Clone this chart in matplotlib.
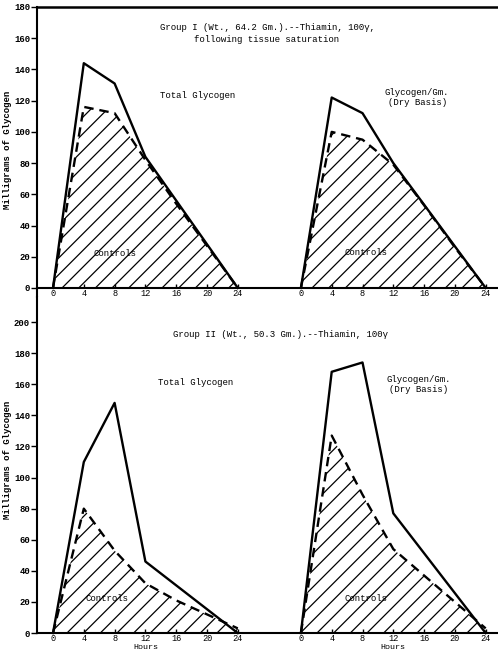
import numpy as np
import matplotlib.pyplot as plt

plt.rcParams['font.family'] = ['Liberation Mono', 'DejaVu Sans Mono']
plt.rcParams['hatch.linewidth'] = 0.9

# Group I
g1_total_hours = [0, 4, 8, 12, 24]
g1_total = [0, 144, 131, 84, 0]
g1_total_ctrl_hours = [0, 4, 8, 12, 16, 20, 24]
g1_total_ctrl = [0, 116, 112, 82, 54, 27, 0]

g1_dry_hours = [0, 4, 8, 12, 24]
g1_dry = [0, 122, 112, 80, 0]
g1_dry_ctrl_hours = [0, 4, 8, 12, 16, 20, 24]
g1_dry_ctrl = [0, 100, 95, 79, 53, 26, 0]

# Group II
g2_total_hours = [0, 4, 8, 12, 24]
g2_total = [0, 110, 148, 46, 0]
g2_total_ctrl_hours = [0, 4, 8, 12, 16, 20, 24]
g2_total_ctrl = [0, 80, 53, 32, 21, 12, 3]

g2_dry_hours = [0, 4, 8, 12, 24]
g2_dry = [0, 168, 174, 77, 0]
g2_dry_ctrl_hours = [0, 4, 8, 12, 16, 20, 24]
g2_dry_ctrl = [0, 127, 89, 54, 37, 20, 3]

hour_ticks = [0, 4, 8, 12, 16, 20, 24]
offset = 32.2  # right-hand chart sits on the same axis, shifted

fig = plt.figure(figsize=(4.98, 6.52), dpi=100)
W, H = 498, 652


def make_ax(top_px, bot_px, ylim, yticks, top_spine):
    ax = fig.add_axes([37 / W, 1 - bot_px / H, (W - 37) / W, (bot_px - top_px) / H])
    ax.set_xlim(-2.08, 57.8)
    ax.set_ylim(*ylim)
    ax.spines['right'].set_visible(False)
    ax.spines['top'].set_visible(top_spine)
    ax.spines['top'].set_linewidth(1.8)
    ax.spines['left'].set_linewidth(1.5)
    ax.spines['bottom'].set_position(('data', 0))
    ax.spines['bottom'].set_linewidth(1.5)
    xt = hour_ticks + [h + offset for h in hour_ticks]
    ax.set_xticks(xt, [str(h) for h in hour_ticks] * 2)
    ax.tick_params(axis='x', direction='in', length=3, width=1, pad=0.5, labelsize=6.2)
    ax.set_yticks(yticks, [str(v) for v in yticks])
    ax.tick_params(axis='y', direction='out', length=4, width=1, pad=1, labelsize=6.5)
    for lab in ax.get_yticklabels():
        lab.set_fontweight('bold')
    return ax


def panel(ax, hrs, vals, chrs, cvals, shift):
    xs = np.array(hrs) + shift
    cx = np.array(chrs) + shift
    ax.fill_between(cx, 0, cvals, facecolor='none', edgecolor='black',
                    hatch='//', linewidth=0)
    ax.plot(cx, cvals, color='black', lw=1.7, dashes=(4, 2.5))
    ax.plot(xs, vals, color='black', lw=1.7)


# top panel
ax1 = make_ax(7, 297, (-5.8, 180), list(range(0, 181, 20)), True)
panel(ax1, g1_total_hours, g1_total, g1_total_ctrl_hours, g1_total_ctrl, 0)
panel(ax1, g1_dry_hours, g1_dry, g1_dry_ctrl_hours, g1_dry_ctrl, offset)

# bottom panel
ax2 = make_ax(297, 650, (-10.9, 216.1), list(range(0, 201, 20)), False)
ax2.spines['left'].set_bounds(0, 216.1)
panel(ax2, g2_total_hours, g2_total, g2_total_ctrl_hours, g2_total_ctrl, 0)
panel(ax2, g2_dry_hours, g2_dry, g2_dry_ctrl_hours, g2_dry_ctrl, offset)

fs = 6.5
for ax, ylo in [(ax1, -9.3), (ax2, -9.2)]:
    ax.text(12, ylo, 'Hours', ha='center', va='center', fontsize=6)
    ax.text(12 + offset, ylo, 'Hours', ha='center', va='center', fontsize=6)

ax1.text(27.8, 163, 'Group I (Wt., 64.2 Gm.).--Thiamin, 100\u03b3,\nfollowing tissue saturation',
         ha='center', va='center', fontsize=fs, linespacing=1.3)
ax1.text(18.8, 123, 'Total Glycogen', ha='center', va='center', fontsize=fs)
ax1.text(47.3, 122, 'Glycogen/Gm.\n(Dry Basis)', ha='center', va='center',
         fontsize=fs, linespacing=1.2)
ax1.text(8, 22, 'Controls', ha='center', va='center', fontsize=fs)
ax1.text(8.5 + offset, 23, 'Controls', ha='center', va='center', fontsize=fs)

ax2.text(29.5, 192, 'Group II (Wt., 50.3 Gm.).--Thiamin, 100\u03b3',
         ha='center', va='center', fontsize=fs)
ax2.text(18.5, 161, 'Total Glycogen', ha='center', va='center', fontsize=fs)
ax2.text(47.5, 160, 'Glycogen/Gm.\n(Dry Basis)', ha='center', va='center',
         fontsize=fs, linespacing=1.2)
ax2.text(7, 22, 'Controls', ha='center', va='center', fontsize=fs)
ax2.text(8.5 + offset, 22, 'Controls', ha='center', va='center', fontsize=fs)

fig.text(8 / W, 1 - 150 / H, 'Milligrams of Glycogen', rotation=90,
         ha='center', va='center', fontsize=6.5, fontweight='bold')
fig.text(8 / W, 1 - 460 / H, 'Milligrams of Glycogen', rotation=90,
         ha='center', va='center', fontsize=6.5, fontweight='bold')

fig.savefig('out.png', dpi=100)
